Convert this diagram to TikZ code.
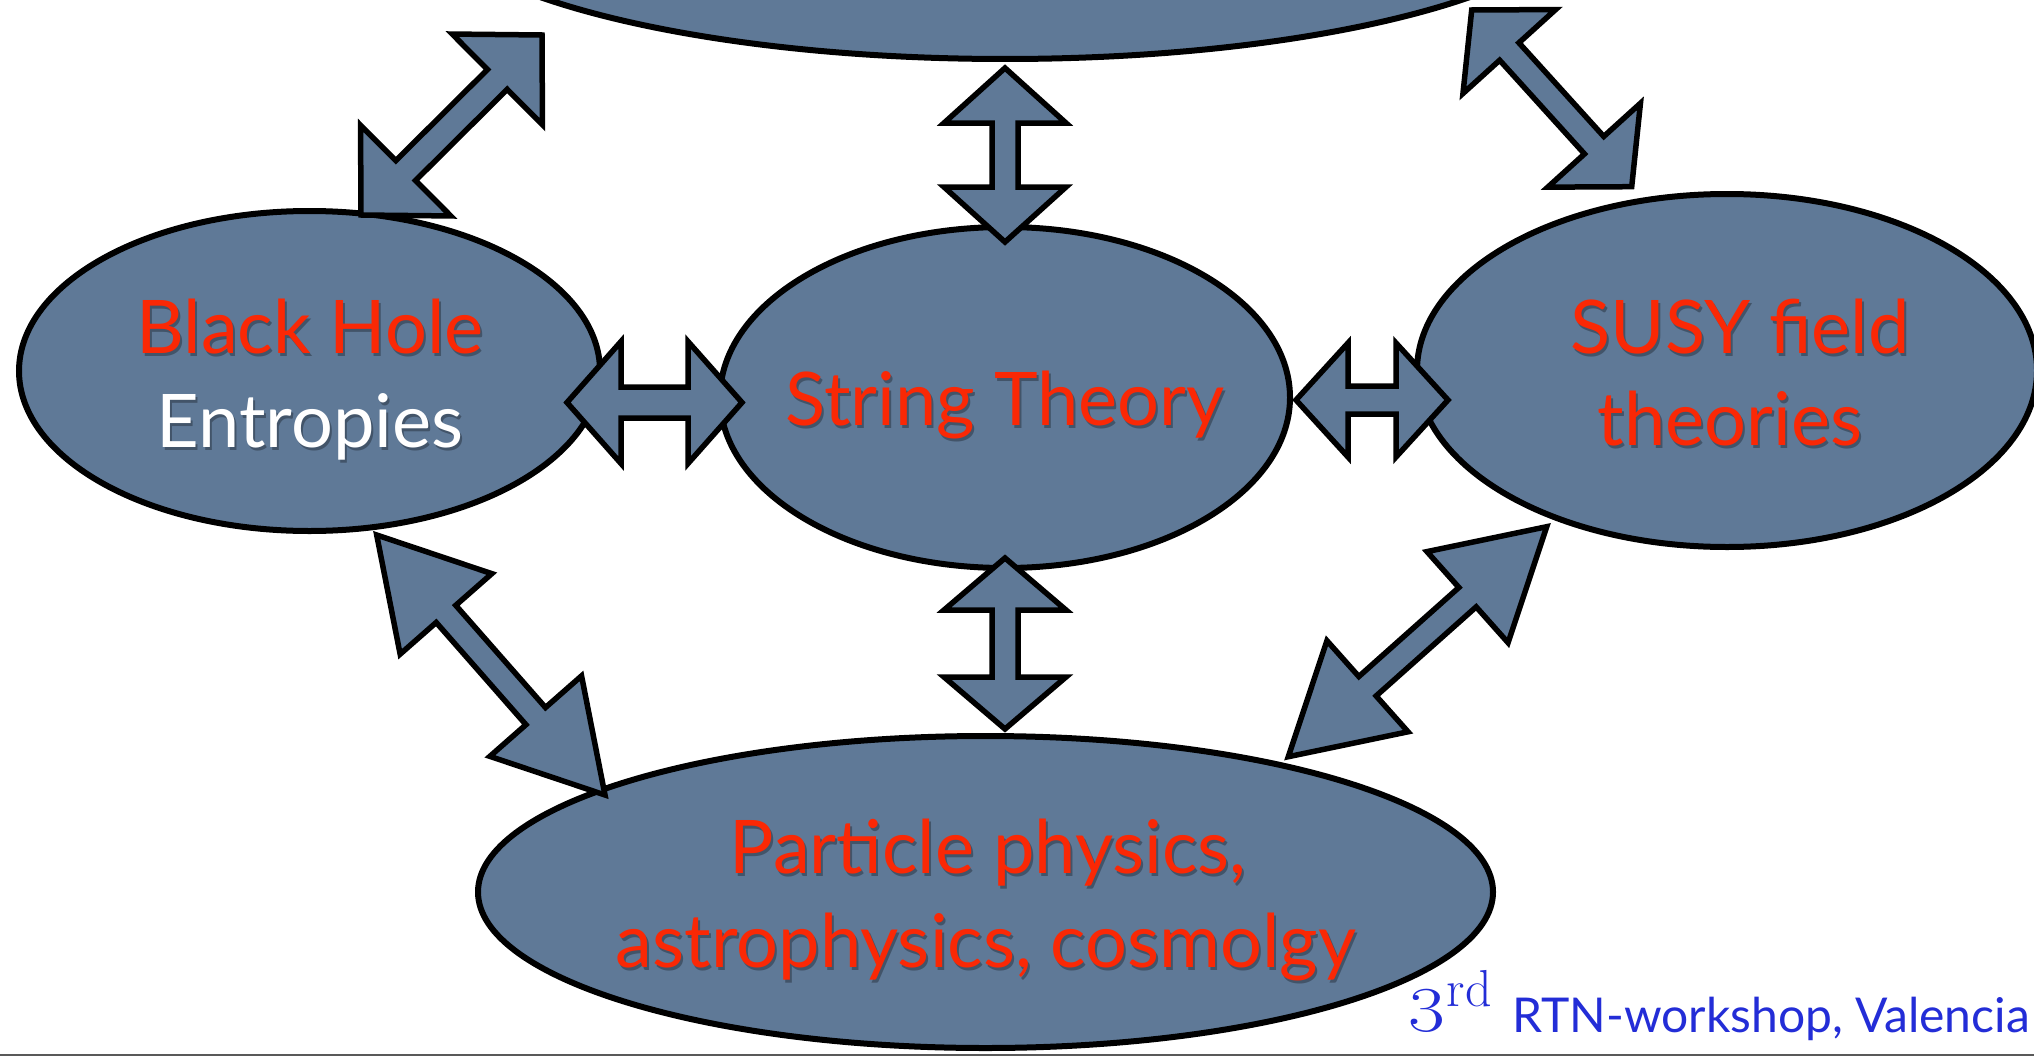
\documentclass[tikz,border=0pt]{standalone}
\usepackage{fontspec}
\usetikzlibrary{calc,shapes.geometric}
\newfontfamily\gill{Lato}
\newfontfamily\lmwide[FakeStretch=1.25]{Latin Modern Roman}
\definecolor{slate}{RGB}{95,121,151}
\definecolor{keyred}{RGB}{250,40,5}
\definecolor{keyblue}{RGB}{35,45,215}
\tikzset{
  bubble/.style={ellipse, draw=black, line width=6pt, fill=slate, inner sep=0pt, outer sep=0pt},
  blockarrow/.style={draw=black, line width=5.5pt, fill=slate, line join=miter, miter limit=10},
  bigtext/.style={font=\gill\fontsize{74}{80}\selectfont, inner sep=0pt, anchor=base},
  redtext/.style={bigtext, text=keyred},
  whitetext/.style={bigtext, text=white},
  shadowtext/.style={bigtext, text=black, opacity=0.3},
}
% fat double arrow between two named coordinates: #3 head length, #4 head half width, #5 shaft half width
\newcommand\fatarrow[5]{%
  \coordinate (fa1) at ($(#1)!#3pt!(#2)$);
  \coordinate (fa2) at ($(#2)!#3pt!(#1)$);
  \draw[blockarrow] (#1)
    -- ($(fa1)!#4pt!90:(#2)$) -- ($(fa1)!#5pt!90:(#2)$)
    -- ($(fa2)!#5pt!-90:(#1)$) -- ($(fa2)!#4pt!-90:(#1)$)
    -- (#2)
    -- ($(fa2)!#4pt!90:(#1)$) -- ($(fa2)!#5pt!90:(#1)$)
    -- ($(fa1)!#5pt!-90:(#2)$) -- ($(fa1)!#4pt!-90:(#2)$)
    -- cycle;
}
\newcommand\shtext[4]{% name, position, style, text
  \node[shadowtext] (#1-s) at ($(#2)+(2,3)$) {#4};
  \node[#3] (#1) at (#2) {#4};
}
\begin{document}
\begin{tikzpicture}[x=1pt,y=-1pt]
\useasboundingbox (0,0) rectangle (2034,1057);
\fill[white] (0,0) rectangle (2034,1057);

% bubbles
\node[bubble, minimum width=1182pt, minimum height=324pt] (top) at (1005,-103) {};
\node[bubble, minimum width=581pt, minimum height=320pt] (bh) at (309.5,371) {};
\node[bubble, minimum width=570pt, minimum height=341pt] (st) at (1005,397.5) {};
\node[bubble, minimum width=620pt, minimum height=353pt] (su) at (1727,370.5) {};
\node[bubble, minimum width=1015pt, minimum height=312pt] (pp) at (985.5,892) {};

% texts
\coordinate (tbh1) at (310,353);
\coordinate (tbh2) at (310,447);
\coordinate (tst) at (1005,425);
\coordinate (tsu1) at (1740,353);
\coordinate (tsu2) at (1730,445);
\coordinate (tpp1) at (988,873);
\coordinate (tpp2) at (986,967);
\shtext{bhA}{tbh1}{redtext}{Black Hole}
\shtext{bhB}{tbh2}{whitetext}{Entropies}
\shtext{stA}{tst}{redtext}{String Theory}
\shtext{suA}{tsu1}{redtext}{SUSY field}
\shtext{suB}{tsu2}{redtext}{theories}
\shtext{ppA}{tpp1}{redtext}{Particle physics,}
\shtext{ppB}{tpp2}{redtext}{astrophysics, cosmolgy}

% arrow end points
\coordinate (a1s) at (361,215);     \coordinate (a1e) at (542,35);
\coordinate (a2s) at (1005,242);    \coordinate (a2e) at (1005,68);
\coordinate (a3s) at (1631.7,186.7);\coordinate (a3e) at (1471.7,10);
\coordinate (a4s) at (567,402.5);   \coordinate (a4e) at (742,402.5);
\coordinate (a5s) at (1296,400);    \coordinate (a5e) at (1448,400);
\coordinate (a6s) at (376.7,535);   \coordinate (a6e) at (605,795);
\coordinate (a7s) at (1005,558);    \coordinate (a7e) at (1005,729);
\coordinate (a8s) at (1546.7,526.7);\coordinate (a8e) at (1288.3,756.7);

\fatarrow{a1s}{a1e}{63}{64}{14}
\fatarrow{a2s}{a2e}{55}{61}{13}
\fatarrow{a3s}{a3e}{56}{62.5}{13}
\fatarrow{a4s}{a4e}{54}{61}{15.5}
\fatarrow{a5s}{a5e}{52}{57}{14}
\fatarrow{a6s}{a6e}{105}{61}{13}
\fatarrow{a7s}{a7e}{52}{61}{13}
\fatarrow{a8s}{a8e}{106}{61}{13}

% footer
\node[anchor=base west, text=keyblue, font=\lmwide\fontsize{64}{70}\selectfont, inner sep=0pt] (third) at (1408,1031) {3\kern2pt\raisebox{25pt}{\normalfont\fontsize{52}{52}\selectfont rd}};
\node[anchor=base east, text=keyblue, font=\gill\fontsize{48}{54}\selectfont, inner sep=0pt] (rtn) at (2030,1032) {RTN-workshop, Valencia};
\draw[line width=2pt, black!65] (0,1055) -- (2034,1055);
\end{tikzpicture}
\end{document}
